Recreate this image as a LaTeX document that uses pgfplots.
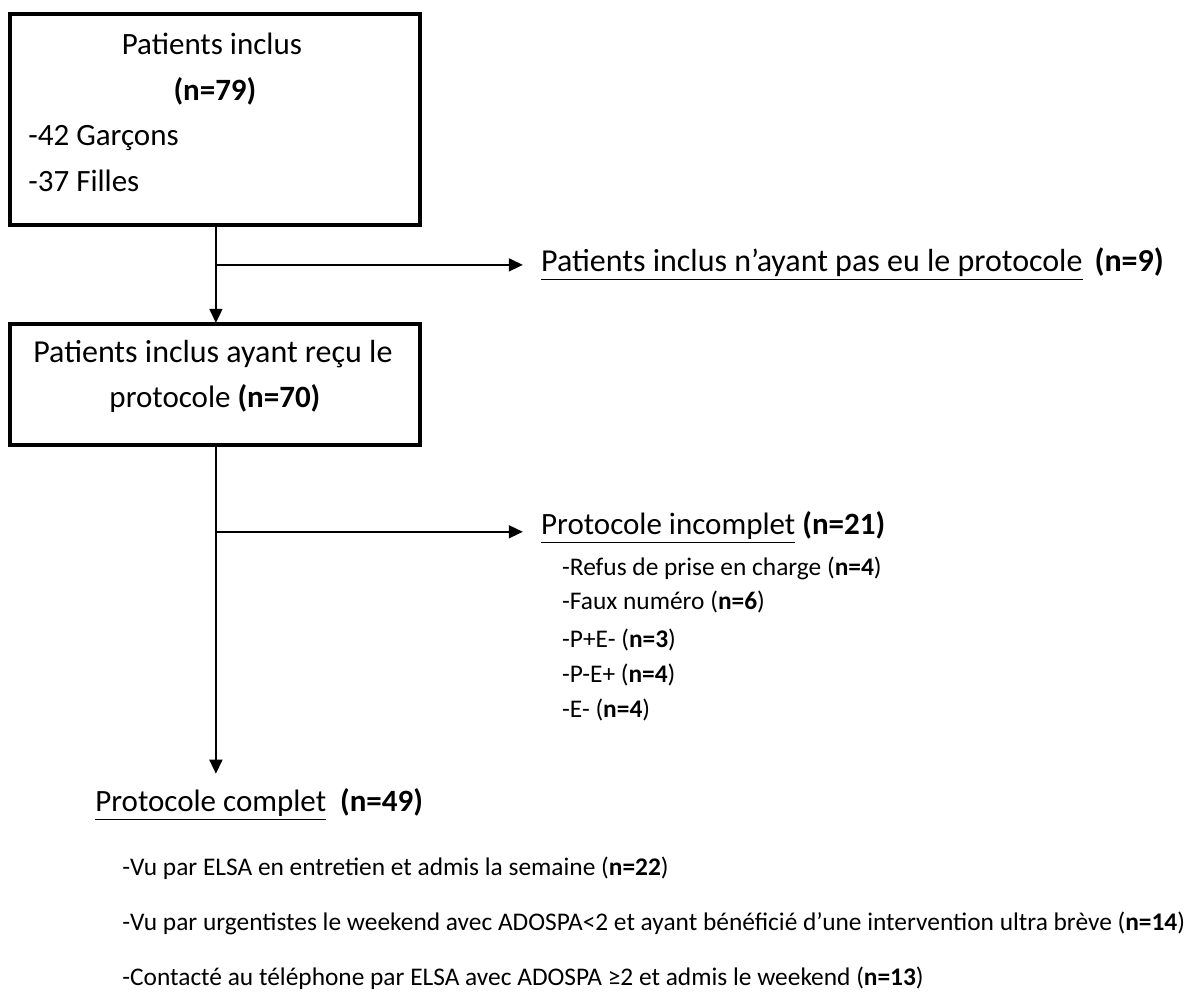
\documentclass[border=0pt]{standalone}
\usepackage{fontspec}
\setmainfont{Carlito}
\usepackage{pgfplots}
\pgfplotsset{compat=1.18}
\usetikzlibrary{arrows.meta}

\newcommand{\fsA}{\fontsize{15.5pt}{18pt}\selectfont}
\newcommand{\fsC}{\fontsize{16pt}{18pt}\selectfont}
\newcommand{\fsB}{\fontsize{12.7pt}{15pt}\selectfont}

\begin{document}
\begin{tikzpicture}
\begin{axis}[
    hide axis,
    x=0.5pt, y=0.5pt,
    y dir=reverse,
    xmin=0, xmax=1185,
    ymin=0, ymax=1000,
    clip=false,
    scale only axis,
]
  % page background
  \addplot[draw=none, fill=white] coordinates {(0,0)(1185,0)(1185,1000)(0,1000)(0,0)};

  % boxes
  \addplot[black, line width=1.9pt, line cap=rect, line join=miter] coordinates {(10,14)(420,14)(420,225)(10,225)(10,14)};
  \addplot[black, line width=1.9pt, line cap=rect, line join=miter] coordinates {(10,324)(420,324)(420,445)(10,445)(10,324)};

  % connectors
  \addplot[black, line width=0.8pt, -{Triangle[length=7pt,width=6.5pt]}] coordinates {(216,226)(216,323)};
  \addplot[black, line width=0.8pt, -{Triangle[length=7pt,width=6.5pt]}] coordinates {(216,265)(523,265)};
  \addplot[black, line width=0.8pt, -{Triangle[length=7pt,width=6.5pt]}] coordinates {(216,446)(216,774)};
  \addplot[black, line width=0.8pt, -{Triangle[length=7pt,width=6.5pt]}] coordinates {(216,532)(523,532)};

  % box 1
  \node[anchor=base, font=\fsA] at (axis cs:212,55) {Patients inclus};
  \node[anchor=base, font=\fsA] at (axis cs:215,101) {\textbf{(n=79)}};
  \node[anchor=base west, font=\fsA, inner sep=0pt] at (axis cs:28,146) {-42 Garçons};
  \node[anchor=base west, font=\fsA, inner sep=0pt] at (axis cs:28,192) {-37 Filles};

  % box 2
  \node[anchor=base, font=\fsC] at (axis cs:213,363) {Patients inclus ayant reçu le};
  \node[anchor=base, font=\fsA] at (axis cs:215,408) {protocole \textbf{(n=70)}};

  % branch 1
  \node[anchor=base west, font=\fsC, inner sep=0pt] at (axis cs:541,272)
    {\underline{Patients inclus n’ayant pas eu le protocole}\hspace{6pt}\textbf{(n=9)}};

  % branch 2
  \node[anchor=base west, font=\fsA, inner sep=0pt] at (axis cs:541,535)
    {\underline{Protocole incomplet} \textbf{(n=21)}};
  \node[anchor=base west, font=\fsB, inner sep=0pt] at (axis cs:562,576) {-Refus de prise en charge (\textbf{n=4})};
  \node[anchor=base west, font=\fsB, inner sep=0pt] at (axis cs:562,610) {-Faux numéro (\textbf{n=6})};
  \node[anchor=base west, font=\fsB, inner sep=0pt] at (axis cs:562,648) {-P+E- (\textbf{n=3})};
  \node[anchor=base west, font=\fsB, inner sep=0pt] at (axis cs:562,683) {-P-E+ (\textbf{n=4})};
  \node[anchor=base west, font=\fsB, inner sep=0pt] at (axis cs:562,718) {-E- (\textbf{n=4})};

  % main branch end
  \node[anchor=base west, font=\fsA, inner sep=0pt] at (axis cs:95,812)
    {\underline{Protocole complet}\ \ \textbf{(n=49)}};
  \node[anchor=base west, font=\fsB, inner sep=0pt] at (axis cs:122,876)
    {-Vu par ELSA en entretien et admis la semaine (\textbf{n=22})};
  \node[anchor=base west, font=\fsB, inner sep=0pt] at (axis cs:122,931)
    {-Vu par urgentistes le weekend avec ADOSPA<2 et ayant bénéficié d’une intervention ultra brève (\textbf{n=14})};
  \node[anchor=base west, font=\fsB, inner sep=0pt] at (axis cs:122,986)
    {-Contacté au téléphone par ELSA avec ADOSPA ≥2 et admis le weekend (\textbf{n=13})};
\end{axis}
\end{tikzpicture}
\end{document}
